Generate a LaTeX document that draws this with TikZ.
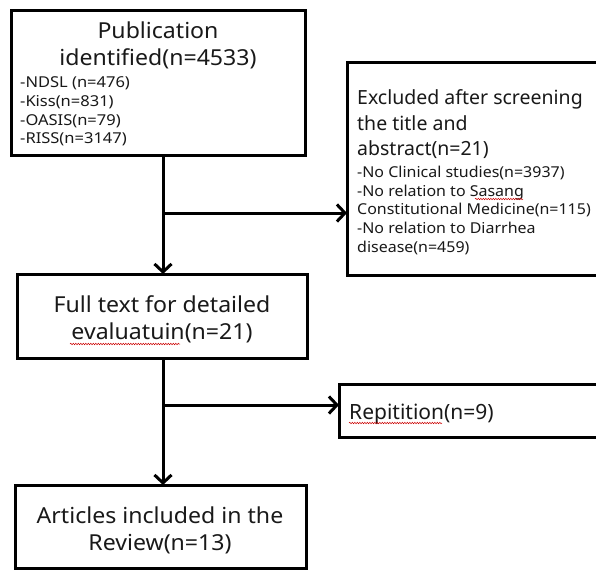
\documentclass[tikz,border=0pt]{standalone}
\usepackage{fontspec}
\setmainfont{Noto Sans}
\newfontfamily\smallfam[FakeStretch=1.1]{Noto Sans}
\newfontfamily\exclfam[FakeStretch=1.065]{Noto Sans}
\newfontfamily\bigfam[FakeStretch=1.05]{Noto Sans}
\usetikzlibrary{arrows.meta,decorations.pathmorphing}
\begin{document}
\begin{tikzpicture}[x=1pt,y=-1pt,
  box/.style={draw=black,line width=3pt,inner sep=0pt,outer sep=0pt,anchor=north west},
  big/.style={inner sep=0pt,font=\bigfam\fontsize{22}{27}\selectfont,text=black!90},
  mid/.style={inner sep=0pt,font=\fontsize{19.5}{26}\selectfont,text=black!90},
  rept/.style={inner sep=0pt,font=\fontsize{21}{26}\selectfont,text=black!90},
  small/.style={inner sep=0pt,font=\smallfam\fontsize{15}{18}\selectfont,text=black!90},
  esmall/.style={inner sep=0pt,font=\exclfam\fontsize{15}{18}\selectfont,text=black!90},
  conn/.style={line width=3pt,-{Straight Barb[length=8pt,width=17pt]}},
  squig/.style={red!80!black,line width=0.5pt,decorate,decoration={snake,amplitude=0.7pt,segment length=2.5pt}}]
\useasboundingbox[fill=white] (0,0) rectangle (596,570);
% boxes
\node[box,minimum width=294pt,minimum height=145pt] (pub) at (11,10) {};
\node[box,minimum width=260pt,minimum height=213pt] (excl) at (347,62) {};
\node[box,minimum width=290pt,minimum height=84pt] (full) at (17,274) {};
\node[box,minimum width=260pt,minimum height=53pt] (rep) at (339,384) {};
\node[box,minimum width=291pt,minimum height=83pt] (art) at (15,485) {};
% texts: publication
\node[big,anchor=base] (p1) at (158,38) {Publication};
\node[big,anchor=base] (p2) at (158,65) {identified(n=4533)};
\node[small,anchor=base west] (p3) at (20,87) {-NDSL (n=476)};
\node[small,anchor=base west] (p4) at (20,106) {-Kiss(n=831)};
\node[small,anchor=base west] (p5) at (20,125) {-OASIS(n=79)};
\node[small,anchor=base west] (p6) at (20,143) {-RISS(n=3147)};
% excluded
\node[mid,anchor=base west] (e1) at (357,104) {Excluded after screening};
\node[mid,anchor=base west] (e2) at (357,130) {the title and};
\node[mid,anchor=base west] (e3) at (357,155) {abstract(n=21)};
\node[esmall,anchor=base west] (e4) at (357,177) {-No Clinical studies(n=3937)};
\node[esmall,anchor=base west] (e5) at (357,196) {-No relation to Sasang};
\node[esmall,anchor=base west] (e6) at (357,214) {Constitutional Medicine(n=115)};
\node[esmall,anchor=base west] (e7) at (357,233) {-No relation to Diarrhea};
\node[esmall,anchor=base west] (e8) at (357,252) {disease(n=459)};
% full text
\node[big,anchor=base] (f1) at (162,312) {Full text for detailed};
\node[big,anchor=base] (f2) at (162,339) {evaluatuin(n=21)};
% repitition
\node[rept,anchor=base west] (r1) at (349,419) {Repitition(n=9)};
% articles
\node[big,anchor=base] (a1) at (160,523) {Articles included in the};
\node[big,anchor=base] (a2) at (160,550) {Review(n=13)};
% spell-check squiggles
\draw[squig] (70,344) -- (180,344);
\draw[squig] (475,199) -- (523,199);
\draw[squig] (349,423) -- (442,423);
% connectors
\coordinate (b1) at (163,213);
\coordinate (b2) at (163,405);
\draw[conn] (pub.south -| b1) -- (full.north -| b1);
\draw[conn] (full.south -| b2) -- (art.north -| b2);
\draw[conn] (b1) -- (b1 -| excl.west);
\draw[conn] (b2) -- (b2 -| rep.west);
\end{tikzpicture}
\end{document}
